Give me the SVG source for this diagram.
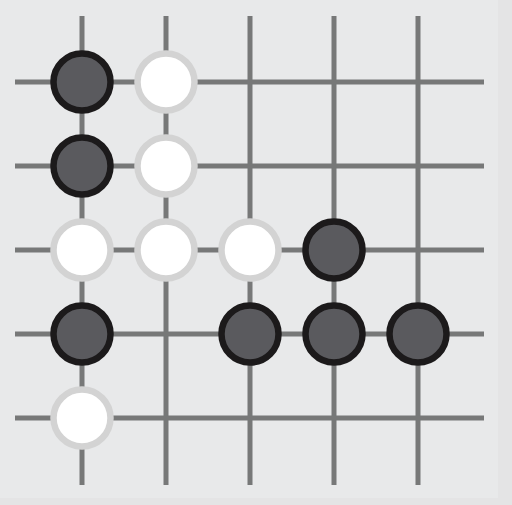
<svg xmlns="http://www.w3.org/2000/svg" width="512" height="505" viewBox="0 0 512 505">
<style>
.g{stroke:#777878;stroke-width:5;fill:none}
.b{fill:#5a5a5e;stroke:#1c1a1b;stroke-width:6.5}
.w{fill:#ffffff;stroke:#d3d3d3;stroke-width:6.5}
</style>
<rect x="0" y="0" width="512" height="505" fill="#e4e4e5"/>
<rect x="0" y="0" width="498" height="498" fill="#e8e9ea"/>
<g id="grid">
<line class="g" x1="82" y1="16" x2="82" y2="485"/>
<line class="g" x1="166" y1="16" x2="166" y2="485"/>
<line class="g" x1="250" y1="16" x2="250" y2="485"/>
<line class="g" x1="334" y1="16" x2="334" y2="485"/>
<line class="g" x1="418" y1="16" x2="418" y2="485"/>
<line class="g" x1="15" y1="82" x2="484" y2="82"/>
<line class="g" x1="15" y1="166" x2="484" y2="166"/>
<line class="g" x1="15" y1="250" x2="484" y2="250"/>
<line class="g" x1="15" y1="334" x2="484" y2="334"/>
<line class="g" x1="15" y1="418" x2="484" y2="418"/>
</g>
<g id="stones">
<circle class="b" cx="82" cy="82" r="28.5"/>
<circle class="b" cx="82" cy="166" r="28.5"/>
<circle class="b" cx="334" cy="250" r="28.5"/>
<circle class="b" cx="82" cy="334" r="28.5"/>
<circle class="b" cx="250" cy="334" r="28.5"/>
<circle class="b" cx="334" cy="334" r="28.5"/>
<circle class="b" cx="418" cy="334" r="28.5"/>
<circle class="w" cx="166" cy="82" r="28.5"/>
<circle class="w" cx="166" cy="166" r="28.5"/>
<circle class="w" cx="82" cy="250" r="28.5"/>
<circle class="w" cx="166" cy="250" r="28.5"/>
<circle class="w" cx="250" cy="250" r="28.5"/>
<circle class="w" cx="82" cy="418" r="28.5"/>
</g>
</svg>
